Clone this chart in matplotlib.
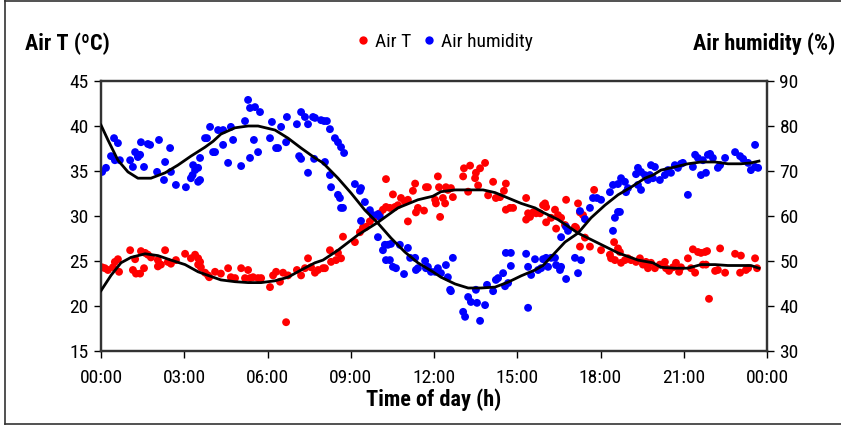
import matplotlib
matplotlib.use("Agg")
import matplotlib.pyplot as plt
from matplotlib.lines import Line2D

plt.rcParams["font.family"] = ["Roboto Condensed", "Liberation Sans", "DejaVu Sans"]

# ----------------------------
# Data (hours of day)
# ----------------------------
t_hours = [0.04, 0.14, 0.25, 0.43, 0.5, 0.61, 0.65, 1.05, 1.23, 1.15, 1.26, 1.41, 1.55, 1.44,
           1.59, 1.69, 1.8, 2.05, 2.05, 2.16, 2.31, 2.41, 2.52, 2.7, 3.03, 3.24, 3.39, 3.5,
           3.57, 3.5, 3.6, 3.75, 3.86, 3.9, 4.11, 4.32, 4.58, 4.68, 4.83, 5.05, 5.19, 5.3,
           5.37, 5.48, 5.66, 5.77, 6.09, 6.2, 6.31, 6.45, 6.56, 6.74, 6.67, 7.06, 7.21, 7.35,
           7.46, 7.57, 7.71, 7.82, 8.0, 8.07, 8.25, 8.29, 8.47, 8.54, 8.65, 8.72, 9.15, 9.33,
           9.44, 9.55, 9.69, 9.8, 9.91, 10.05, 10.16, 10.27, 10.41, 10.59, 10.7, 10.81, 10.95,
           11.06, 10.27, 10.52, 11.06, 11.24, 11.32, 11.35, 11.42, 11.64, 11.71, 11.78, 12.04,
           12.07, 12.14, 12.22, 12.18, 12.32, 12.4, 12.43, 12.5, 12.61, 12.68, 13.05, 13.08,
           13.3, 13.48, 13.51, 13.59, 13.66, 13.84, 13.23, 13.95, 14.13, 14.23, 14.38, 14.52,
           14.59, 14.59, 14.74, 14.85, 15.32, 15.39, 15.32, 15.46, 15.57, 15.68, 15.82, 15.93,
           16.0, 16.04, 16.04, 16.22, 16.36, 16.4, 16.47, 16.58, 16.72, 16.76, 17.19, 17.26,
           17.37, 17.08, 17.12, 17.77, 17.26, 17.44, 17.62, 18.02, 18.49, 18.63, 18.7, 18.34,
           18.38, 18.52, 18.74, 18.88, 18.99, 19.1, 19.28, 19.42, 19.53, 19.64, 19.82, 19.71,
           19.96, 20.14, 20.32, 20.36, 20.47, 20.61, 20.72, 20.83, 20.9, 21.15, 21.26, 21.41,
           21.33, 21.51, 21.62, 21.77, 21.84, 22.31, 21.69, 21.8, 22.13, 22.23, 22.49, 21.91,
           22.85, 23.06, 23.03, 23.24, 23.32, 23.57, 23.64]
air_t = [24.3, 24.2, 24.0, 24.3, 24.9, 25.2, 23.8, 26.2, 25.2, 24.0, 23.6, 23.6, 24.2, 26.1,
         25.9, 25.7, 25.4, 25.1, 24.4, 24.6, 26.2, 24.9, 24.7, 25.1, 25.8, 25.3, 25.7, 25.3,
         24.9, 24.6, 24.3, 23.7, 23.4, 23.2, 23.8, 23.6, 24.2, 23.2, 23.1, 24.2, 23.1, 24.0,
         23.1, 23.2, 23.1, 23.1, 22.1, 23.4, 23.8, 22.7, 23.7, 23.4, 18.2, 24.0, 23.4, 24.2,
         25.3, 24.3, 23.7, 24.0, 24.2, 24.2, 26.2, 24.9, 25.1, 25.9, 25.3, 27.7, 27.1, 28.2,
         28.7, 28.8, 29.4, 29.8, 30.0, 30.3, 30.7, 31.0, 30.9, 31.0, 31.2, 32.0, 31.6,
         31.8, 34.1, 32.4, 29.4, 32.8, 33.6, 30.4, 30.9, 30.6, 33.2, 33.2, 31.8,
         31.4, 34.4, 29.9, 33.2, 32.0, 31.4, 33.2, 32.9, 33.1, 32.1, 34.4, 35.3,
         35.6, 34.2, 34.8, 33.4, 35.3, 35.9, 32.7, 32.3, 33.8, 32.0, 32.1, 32.8,
         33.6, 30.7, 30.9, 30.9, 32.0, 30.3, 29.6, 29.9, 30.4, 30.3, 30.3, 31.2,
         31.4, 31.0, 29.3, 29.8, 30.7, 28.6, 30.1, 29.8, 29.0, 31.8, 31.4, 30.4,
         30.1, 28.8, 28.7, 32.9, 26.6, 27.6, 26.6, 26.2, 27.1, 26.4, 26.0, 25.7,
         25.3, 25.1, 24.8, 25.1, 25.3, 25.1, 24.9, 25.3, 24.6, 24.9, 24.8, 24.2,
         24.2, 24.6, 24.9, 24.2, 23.9, 24.3, 24.8, 23.8, 24.3, 25.3, 24.2, 23.7,
         26.3, 26.0, 25.9, 26.0, 26.1, 26.4, 24.6, 24.6, 23.9, 24.0, 23.7, 20.8,
         25.8, 25.6, 23.7, 24.0, 24.2, 25.3, 24.2]

h_hours = [0.04, 0.18, 0.47, 0.61, 0.36, 0.5, 0.68, 1.05, 1.23, 1.33, 1.41, 1.15, 1.55, 1.44,
           1.69, 1.77, 2.09, 2.31, 2.49, 2.52, 2.02, 2.27, 2.7, 3.06, 3.32, 3.39, 3.5, 3.3,
           3.24, 3.5, 3.57, 3.57, 3.75, 3.82, 3.93, 4.04, 4.11, 4.22, 4.4, 4.4, 4.58, 4.68,
           4.76, 5.05, 5.19, 5.3, 5.37, 5.55, 5.73, 5.37, 5.51, 5.66, 6.09, 6.16, 6.31, 6.38,
           6.49, 6.67, 6.7, 7.06, 7.14, 7.21, 7.21, 7.35, 7.46, 7.64, 7.71, 7.46, 7.68, 7.93,
           8.04, 8.14, 8.25, 8.43, 8.54, 8.65, 8.76, 8.07, 8.25, 8.29, 8.54, 8.61, 8.65, 8.72,
           9.15, 9.33, 9.37, 9.51, 9.69, 9.8, 9.98, 10.05, 9.37, 9.98, 10.16, 10.23, 10.34,
           10.45, 10.27, 10.41, 10.52, 10.63, 10.77, 10.92, 11.06, 11.14, 11.32, 11.35, 11.42,
           11.68, 11.71, 11.89, 11.78, 12.04, 12.14, 12.25, 12.43, 12.5, 12.68, 12.58, 12.61,
           13.05, 13.12, 13.23, 13.33, 13.51, 13.55, 13.66, 13.84, 13.91, 14.13, 14.23, 14.31,
           14.49, 14.56, 14.67, 14.59, 14.77, 14.77, 15.32, 15.39, 15.39, 15.5, 15.64, 15.75,
           15.86, 15.93, 16.04, 16.11, 16.22, 16.36, 16.4, 16.58, 16.54, 16.76, 16.58, 16.76,
           16.83, 17.08, 17.19, 17.3, 17.26, 17.44, 17.62, 17.73, 17.87, 18.02, 18.34, 18.45,
           18.63, 18.74, 18.88, 18.92, 18.99, 18.45, 18.52, 18.63, 18.7, 19.28, 19.35, 19.46,
           19.6, 19.35, 19.46, 19.71, 19.82, 19.78, 19.96, 19.89, 20.14, 20.32, 20.43, 20.54,
           20.68, 20.79, 20.9, 20.97, 21.15, 21.33, 21.41, 21.51, 21.62, 21.69, 21.8, 21.87,
           21.95, 22.05, 22.23, 22.31, 22.49, 22.85, 23.03, 23.14, 23.32, 23.42, 23.57, 23.68,
           23.57]
air_h = [69.8, 70.7, 77.3, 76.2, 73.3, 72.4, 72.4, 72.4, 74.2, 73.1, 73.6, 70.9, 70.9, 76.4,
         76.0, 75.8, 76.9, 72.0, 75.1, 69.8, 69.8, 68.0, 66.9, 66.4, 71.3, 70.2, 70.7, 69.1,
         68.4, 67.6, 68.0, 72.9, 77.3, 77.3, 79.8, 74.2, 74.2, 79.1, 79.1, 75.8, 71.8, 79.8,
         76.9, 71.1, 81.1, 85.8, 84.0, 84.2, 83.1, 72.9, 76.9, 74.2, 77.3, 80.9, 75.1, 75.1,
         79.8, 76.4, 82.0, 80.4, 73.3, 72.7, 83.1, 82.0, 80.4, 82.0, 81.8, 69.6, 72.7, 81.3,
         81.1, 81.1, 79.3, 77.3, 76.4, 75.3, 74.0, 72.0, 69.1, 66.4, 64.7, 64.0, 61.8, 61.8,
         67.1, 65.6, 66.2, 63.1, 61.3, 60.2, 60.4, 59.8, 58.9, 55.3, 52.4, 53.6, 53.6,
         53.8, 50.2, 50.2, 48.7, 48.4, 53.6, 47.1, 52.9, 50.7, 50.7, 48.0, 48.4,
         50.0, 48.4, 47.6, 48.7, 47.6, 48.4, 47.3, 49.1, 46.4, 50.7, 43.6, 43.3,
         38.7, 37.6, 42.0, 40.9, 43.6, 40.7, 36.7, 40.2, 44.7, 43.3, 45.8, 46.2,
         47.3, 44.4, 45.1, 51.8, 51.8, 48.9, 51.6, 48.7, 39.6, 46.9, 50.4, 48.0,
         48.4, 50.4, 50.7, 48.7, 50.7, 50.7, 49.1, 48.7, 48.0, 46.0, 55.3, 57.6,
         56.7, 50.7, 47.3, 50.2, 61.1, 59.3, 61.8, 64.0, 64.0, 63.6, 65.3, 66.9,
         67.1, 68.4, 67.6, 65.3, 66.2, 56.7, 59.6, 60.9, 60.9, 69.3, 70.7, 69.8,
         69.1, 66.9, 65.8, 68.0, 71.3, 69.1, 70.9, 68.4, 68.0, 69.1, 70.2, 69.6,
         71.3, 70.7, 71.6, 71.8, 64.7, 70.9, 73.6, 72.9, 69.1, 72.4, 69.6, 73.6,
         73.8, 72.9, 70.7, 71.3, 72.9, 74.2, 73.3, 72.7, 71.8, 70.2, 70.9, 70.7,
         75.8]

# fitted trend lines (black)
fit_t_hours = [0.0, 0.36, 0.72, 1.08, 1.59, 2.05, 2.52, 3.03, 3.5, 4.04, 4.32, 4.83, 5.3, 5.77,
               6.27, 6.74, 7.21, 7.71, 8.0, 8.54, 9.26, 9.98, 10.7, 11.42, 11.96, 12.25, 12.76,
               13.23, 13.77, 14.2, 14.67, 15.14, 15.64, 15.93, 16.47, 17.19, 17.91, 18.63,
               19.35, 19.89, 20.18, 20.68, 21.15, 21.62, 22.13, 22.59, 23.06, 23.42, 23.71]
fit_t = [21.7, 23.4, 24.8, 25.4, 25.8, 25.6, 25.1, 24.6, 23.8, 23.2, 22.9, 22.7, 22.6, 22.6,
         22.8, 23.2, 24.0, 24.8, 25.1, 26.2, 27.9, 29.3, 30.9, 31.8, 32.2, 32.7, 32.9,
         32.9, 32.9, 32.6, 32.0, 31.4, 30.9, 30.4, 29.6, 28.1, 27.0, 25.9,
         25.1, 24.8, 24.3, 24.2, 24.2, 24.6, 24.6, 24.5, 24.5, 24.5, 24.2]

fit_h_hours = [0.0, 0.25, 0.61, 0.97, 1.33, 1.8, 2.31, 2.77, 3.24, 3.75, 4.04, 4.32, 4.83, 5.3,
               5.66, 6.27, 6.74, 7.21, 7.71, 8.0, 8.54, 9.01, 9.51, 9.98, 10.45, 10.95, 11.42,
               11.96, 12.25, 12.76, 13.23, 13.69, 14.2, 14.67, 15.14, 15.64, 15.93, 16.22,
               16.72, 17.19, 17.66, 18.16, 18.63, 19.1, 19.6, 19.89, 20.18, 20.68, 21.15,
               21.62, 22.13, 22.59, 23.06, 23.42, 23.71]
fit_h = [80.2, 76.9, 72.4, 69.8, 68.4, 68.4, 69.6, 71.3, 73.3, 75.3, 76.6, 78.2, 79.6, 80.0,
         80.0, 79.1, 77.3, 75.1, 72.9, 71.8, 68.4, 65.1, 61.3, 58.4, 55.1, 52.0, 49.6,
         47.6, 46.4, 44.9, 44.0, 44.0, 44.2, 45.3, 46.7, 48.0, 49.0, 50.9,
         54.2, 56.2, 59.6, 62.4, 64.7, 66.4, 68.4, 69.1, 70.2, 70.9, 71.6,
         72.0, 72.0, 71.6, 71.6, 71.8, 72.2]

x_ticks = list(range(0, 25, 3))
x_labels = [f"{h % 24:02d}:00" for h in x_ticks]

# ----------------------------
# Figure
# ----------------------------
W, H = 841, 428
FS = 14      # tick labels / legend
FSB = 16     # bold axis titles
fig = plt.figure(figsize=(W / 100, H / 100), dpi=100)
ax = fig.add_axes([101 / W, 1 - 351 / H, 666 / W, 270 / H])
ax2 = ax.twinx()

ax.scatter(t_hours, air_t, s=32, color="#ff0000", edgecolors="none", zorder=2)
ax2.scatter(h_hours, air_h, s=32, color="#0000ff", edgecolors="none", zorder=2)
ax2.plot(fit_t_hours, fit_t, color="black", lw=2, transform=ax.transData, zorder=3)
ax2.plot(fit_h_hours, fit_h, color="black", lw=2, zorder=3)

ax.set_xlim(0, 24)
ax.set_ylim(15, 45)
ax2.set_ylim(30, 90)
ax.set_xticks(x_ticks)
ax.set_xticklabels(x_labels)
ax.set_yticks(range(15, 46, 5))
ax2.set_yticks(range(30, 91, 10))

spine_c = "#333333"
for a in (ax, ax2):
    for s in a.spines.values():
        s.set_color(spine_c)
        s.set_linewidth(1.6)
    a.tick_params(colors="black", labelsize=FS, length=5, width=1, direction="out")
ax.tick_params(axis="x", pad=8)
ax.tick_params(axis="y", pad=4)
ax2.tick_params(axis="y", pad=4)

ax.set_xlabel("Time of day (h)", fontsize=FSB, fontweight="bold", labelpad=1)

fig.text(25 / W, 1 - 44 / H, "Air T (ºC)", fontsize=FSB, fontweight="bold",
         ha="left", va="center")
fig.text(693 / W, 1 - 44 / H, "Air humidity (%)", fontsize=FSB, fontweight="bold",
         ha="left", va="center")

handles = [Line2D([], [], ls="none", marker="o", ms=6, mec="none", color="#ff0000"),
           Line2D([], [], ls="none", marker="o", ms=6, mec="none", color="#0000ff")]
fig.legend(handles, ["Air T", "Air humidity"], loc="center", ncol=2,
           bbox_to_anchor=(445 / W, 1 - 42 / H), frameon=False, fontsize=FS,
           handlelength=0.6, handletextpad=0.3, columnspacing=0.6)

# outer chart-area border (right edge falls outside the picture)
border = dict(color="#333333", lw=1.2, transform=fig.transFigure)
fig.add_artist(Line2D([5 / W, 5 / W], [1 - 424 / H, 1], **border))
fig.add_artist(Line2D([5 / W, 1], [1 - 424 / H, 1 - 424 / H], **border))
fig.add_artist(Line2D([5 / W, 1], [1 - 1 / H, 1 - 1 / H], **border))

fig.savefig("out.png", dpi=100)
